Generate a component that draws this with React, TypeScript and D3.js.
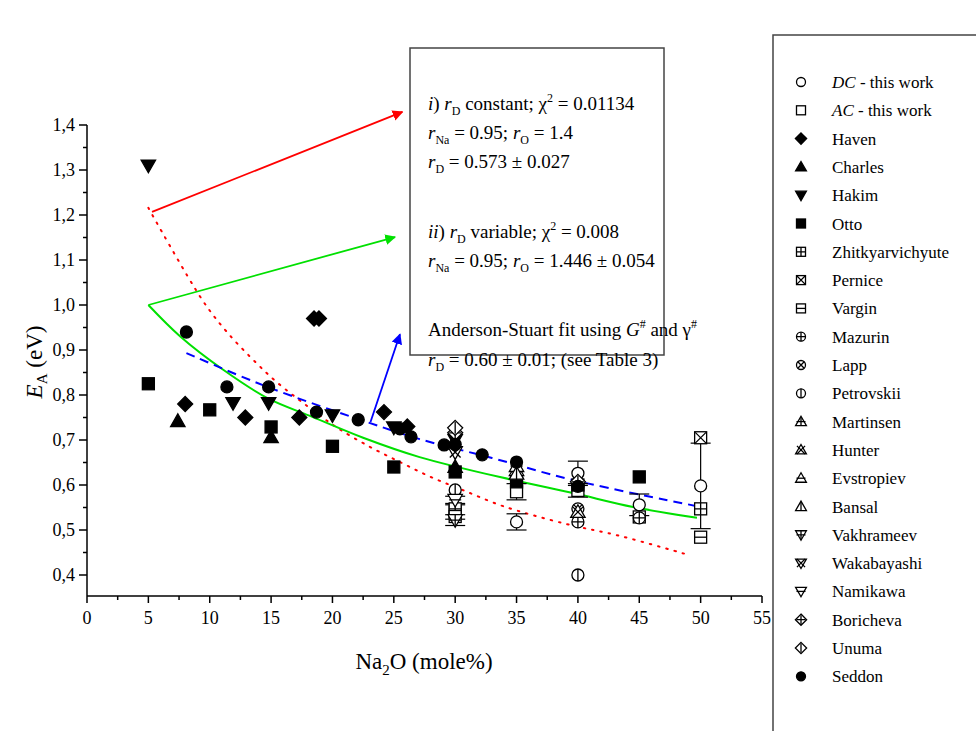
import React from 'react';
import * as d3 from 'd3';

type P = [number, number];

// measured series
const dcThisWork: P[] = [[35, 0.518], [40, 0.626], [45, 0.556], [50, 0.598]];
const acThisWork: P[] = [[30, 0.54], [35, 0.585], [40, 0.588]];
const haven: P[] = [[8, 0.78], [12.9, 0.75], [17.3, 0.75], [18.5, 0.97], [18.9, 0.97], [24.2, 0.762], [26.1, 0.73]];
const charles: P[] = [[7.4, 0.742], [15, 0.706], [30, 0.64]];
const hakim: P[] = [[5, 1.31], [11.9, 0.782], [14.8, 0.782], [20, 0.755], [25, 0.728], [30, 0.7]];
const otto: P[] = [[5, 0.825], [10, 0.767], [15, 0.729], [20, 0.686], [25, 0.64], [30, 0.629], [35, 0.607], [40, 0.6], [45, 0.618]];
const zhit: P[] = [[30, 0.547], [45, 0.529], [50, 0.547]];
const pernice: P[] = [[50, 0.705]];
const vargin: P[] = [[30, 0.53], [50, 0.484]];
const mazurin: P[] = [[40, 0.518], [45, 0.527]];
const lapp: P[] = [[40, 0.547]];
const petrovskii: P[] = [[30, 0.589], [40, 0.4]];
const martinsen: P[] = [[35, 0.633]];
const hunter: P[] = [[40, 0.54]];
const evstropiev: P[] = [[35, 0.642]];
const bansal: P[] = [[35, 0.625]];
const vakhrameev: P[] = [[30, 0.522]];
const wakabayashi: P[] = [[30, 0.673]];
const namikawa: P[] = [[30, 0.567]];
const boricheva: P[] = [[30, 0.716], [40, 0.607]];
const unuma: P[] = [[30, 0.727]];
const seddon: P[] = [[8.1, 0.94], [11.4, 0.818], [14.8, 0.818], [18.7, 0.762], [22.1, 0.745], [25.5, 0.725], [26.4, 0.707], [29.1, 0.689], [30, 0.69], [32.2, 0.667], [35, 0.651], [40, 0.597]];

// error bars [x, y, err]
const errBars: [number, number, number][] = [
  [35, 0.518, 0.018], [40, 0.626, 0.027], [45, 0.556, 0.024], [50, 0.598, 0.095],
  [30, 0.54, 0.016], [35, 0.585, 0.018], [40, 0.588, 0.015], [30, 0.522, 0.012], [30, 0.567, 0.008],
];

// fit curves
const fitConstant: P[] = [[5, 1.216], [9.4, 1.011], [11.4, 0.94], [13.8, 0.871], [15.4, 0.83], [17.1, 0.793], [18.7, 0.76], [20.4, 0.727], [22.9, 0.687], [25.5, 0.651], [28, 0.618], [30.6, 0.589], [33.9, 0.553], [39.1, 0.513], [43.4, 0.487], [49.1, 0.444]];
const fitVariable: P[] = [[5, 1.0], [7.6, 0.93], [11.1, 0.856], [14.7, 0.793], [18.4, 0.751], [22.5, 0.705], [27.1, 0.662], [34.7, 0.611], [39.6, 0.582], [44.5, 0.551], [49.7, 0.527]];
const fitAS: P[] = [[8.1, 0.893], [14.7, 0.818], [22.8, 0.74], [27.1, 0.702], [33, 0.66], [39.6, 0.611], [49.7, 0.553]];

const xTicks = d3.range(0, 56, 5);
const yTicks = d3.range(0.4, 1.401, 0.1);

type Kind = 'circle' | 'square' | 'diamond' | 'up' | 'down';
type Deco = '' | 'plus' | 'x' | 'h' | 'v';
interface Series { name: string; italic?: string; data: P[]; kind: Kind; fill: boolean; deco: Deco; }

const series: Series[] = [
  { name: ' - this work', italic: 'DC', data: dcThisWork, kind: 'circle', fill: false, deco: '' },
  { name: ' - this work', italic: 'AC', data: acThisWork, kind: 'square', fill: false, deco: '' },
  { name: 'Haven', data: haven, kind: 'diamond', fill: true, deco: '' },
  { name: 'Charles', data: charles, kind: 'up', fill: true, deco: '' },
  { name: 'Hakim', data: hakim, kind: 'down', fill: true, deco: '' },
  { name: 'Otto', data: otto, kind: 'square', fill: true, deco: '' },
  { name: 'Zhitkyarvichyute', data: zhit, kind: 'square', fill: false, deco: 'plus' },
  { name: 'Pernice', data: pernice, kind: 'square', fill: false, deco: 'x' },
  { name: 'Vargin', data: vargin, kind: 'square', fill: false, deco: 'h' },
  { name: 'Mazurin', data: mazurin, kind: 'circle', fill: false, deco: 'plus' },
  { name: 'Lapp', data: lapp, kind: 'circle', fill: false, deco: 'x' },
  { name: 'Petrovskii', data: petrovskii, kind: 'circle', fill: false, deco: 'v' },
  { name: 'Martinsen', data: martinsen, kind: 'up', fill: false, deco: 'plus' },
  { name: 'Hunter', data: hunter, kind: 'up', fill: false, deco: 'x' },
  { name: 'Evstropiev', data: evstropiev, kind: 'up', fill: false, deco: 'h' },
  { name: 'Bansal', data: bansal, kind: 'up', fill: false, deco: 'v' },
  { name: 'Vakhrameev', data: vakhrameev, kind: 'down', fill: false, deco: 'plus' },
  { name: 'Wakabayashi', data: wakabayashi, kind: 'down', fill: false, deco: 'x' },
  { name: 'Namikawa', data: namikawa, kind: 'down', fill: false, deco: 'h' },
  { name: 'Boricheva', data: boricheva, kind: 'diamond', fill: false, deco: 'plus' },
  { name: 'Unuma', data: unuma, kind: 'diamond', fill: false, deco: 'v' },
  { name: 'Seddon', data: seddon, kind: 'circle', fill: true, deco: '' },
];

const Marker: React.FC<{ kind: Kind; fill: boolean; deco: Deco; cx: number; cy: number; r: number }> = ({ kind, fill, deco, cx, cy, r }) => {
  const f = fill ? '#000' : '#fff';
  let shape: React.ReactNode;
  if (kind === 'circle') shape = <circle cx={cx} cy={cy} r={r} />;
  else if (kind === 'square') shape = <rect x={cx - r} y={cy - r} width={2 * r} height={2 * r} />;
  else if (kind === 'diamond') shape = <path d={`M${cx},${cy - r * 1.25}L${cx + r * 1.25},${cy}L${cx},${cy + r * 1.25}L${cx - r * 1.25},${cy}Z`} />;
  else if (kind === 'up') shape = <path d={`M${cx},${cy - r * 1.2}L${cx + r * 1.2},${cy + r * 0.9}L${cx - r * 1.2},${cy + r * 0.9}Z`} />;
  else shape = <path d={`M${cx},${cy + r * 1.2}L${cx + r * 1.2},${cy - r * 0.9}L${cx - r * 1.2},${cy - r * 0.9}Z`} />;
  const k = kind === 'circle' ? r * 0.71 : r * 0.9;
  let d = '';
  if (deco === 'plus') d = `M${cx - r},${cy}H${cx + r}M${cx},${cy - r}V${cy + r}`;
  if (deco === 'x') d = `M${cx - k},${cy - k}L${cx + k},${cy + k}M${cx + k},${cy - k}L${cx - k},${cy + k}`;
  if (deco === 'h') d = `M${cx - r},${cy}H${cx + r}`;
  if (deco === 'v') d = `M${cx},${cy - r}V${cy + r}`;
  return (
    <g fill={f} stroke="#000" strokeWidth={1.3}>
      {shape}
      {d && <path d={d} fill="none" />}
    </g>
  );
};

const App: React.FC = () => {
  const x = d3.scaleLinear().domain([0, 55]).range([87, 762]);
  const y = d3.scaleLinear().domain([0.4, 1.4]).range([575, 125]);
  const yBottom = 596;
  const line = d3.line<P>().x(d => x(d[0])).y(d => y(d[1])).curve(d3.curveCatmullRom);
  const font = "'Liberation Serif', 'DejaVu Serif', serif";

  return (
    <svg width={976} height={731} style={{ position: 'absolute', left: 0, top: 0, background: '#fff', fontFamily: font }}>
      <defs>
        {['red', 'lime', 'blue'].map(c => (
          <marker key={c} id={`arr-${c}`} viewBox="0 0 10 10" refX="9" refY="5" markerWidth="6" markerHeight="6" orient="auto">
            <path d="M0,0L10,5L0,10Z" fill={c === 'lime' ? '#00e000' : c} />
          </marker>
        ))}
      </defs>

      {/* axes */}
      <g stroke="#000" strokeWidth={1.5}>
        <line x1={x(0)} x2={x(0)} y1={y(1.4)} y2={yBottom} />
        <line x1={x(0)} x2={x(55)} y1={yBottom} y2={yBottom} />
        {d3.range(0, 55.1, 2.5).map(t => (
          <line key={t} x1={x(t)} x2={x(t)} y1={yBottom} y2={yBottom + (t % 5 === 0 ? 7 : 4)} />
        ))}
        {d3.range(0.4, 1.401, 0.05).map(t => (
          <line key={t} x1={x(0)} x2={x(0) - (Math.round(t * 100) % 10 === 0 ? 8 : 4)} y1={y(t)} y2={y(t)} />
        ))}
      </g>
      {xTicks.map(t => (
        <text key={t} x={x(t)} y={yBottom + 28} textAnchor="middle" fontSize={18}>{t}</text>
      ))}
      {yTicks.map(t => (
        <text key={t} x={x(0) - 12} y={y(t) + 6} textAnchor="end" fontSize={18}>{t.toFixed(1).replace('.', ',')}</text>
      ))}
      <text x={424} y={669} textAnchor="middle" fontSize={23}>Na<tspan fontSize={15} dy={6}>2</tspan><tspan dy={-6}>O (mole%)</tspan></text>
      <text transform="translate(42,362) rotate(-90)" textAnchor="middle" fontSize={23}>
        <tspan fontStyle="italic">E</tspan><tspan fontSize={15} dy={5}>A</tspan><tspan dy={-5}> (eV)</tspan>
      </text>

      {/* fits */}
      <path d={line(fitConstant) ?? ''} fill="none" stroke="red" strokeWidth={2} strokeDasharray="1.5 7" strokeLinecap="round" />
      <path d={line(fitVariable) ?? ''} fill="none" stroke="#00e000" strokeWidth={2} />
      <path d={line(fitAS) ?? ''} fill="none" stroke="#0000ff" strokeWidth={2} strokeDasharray="9 6" />

      {/* arrows */}
      <line x1={x(5.3)} y1={y(1.207)} x2={x(25.7)} y2={y(1.429)} stroke="red" strokeWidth={1.8} markerEnd="url(#arr-red)" />
      <line x1={x(5)} y1={y(1.0)} x2={x(25.1)} y2={y(1.151)} stroke="#00e000" strokeWidth={1.8} markerEnd="url(#arr-lime)" />
      <line x1={x(23.1)} y1={y(0.74)} x2={x(25.5)} y2={y(0.935)} stroke="blue" strokeWidth={1.8} markerEnd="url(#arr-blue)" />

      {/* error bars */}
      <g stroke="#000" strokeWidth={1.2}>
        {errBars.map(([ex, ey, ee], i) => (
          <g key={i}>
            <line x1={x(ex)} x2={x(ex)} y1={y(ey + ee)} y2={y(ey - ee)} />
            <line x1={x(ex) - 10} x2={x(ex) + 10} y1={y(ey + ee)} y2={y(ey + ee)} />
            <line x1={x(ex) - 10} x2={x(ex) + 10} y1={y(ey - ee)} y2={y(ey - ee)} />
          </g>
        ))}
      </g>

      {/* points */}
      {series.map((s, si) => (
        <g key={si}>
          {s.data.map((d, i) => (
            <Marker key={i} kind={s.kind} fill={s.fill} deco={s.deco} cx={x(d[0])} cy={y(d[1])} r={6} />
          ))}
        </g>
      ))}

      {/* annotation box */}
      <rect x={410} y={48} width={254} height={307} fill="none" stroke="#444" strokeWidth={1.5} />
      <g fontSize={19}>
        <text x={428} y={110}><tspan fontStyle="italic">i</tspan>) <tspan fontStyle="italic">r</tspan><tspan fontSize={12} dy={5}>D</tspan><tspan dy={-5}> constant; χ</tspan><tspan fontSize={12} dy={-8}>2</tspan><tspan dy={8}> = 0.01134</tspan></text>
        <text x={428} y={139}><tspan fontStyle="italic">r</tspan><tspan fontSize={12} dy={5}>Na</tspan><tspan dy={-5}> = 0.95; </tspan><tspan fontStyle="italic">r</tspan><tspan fontSize={12} dy={5}>O</tspan><tspan dy={-5}> = 1.4</tspan></text>
        <text x={428} y={168}><tspan fontStyle="italic">r</tspan><tspan fontSize={12} dy={5}>D</tspan><tspan dy={-5}> = 0.573 ± 0.027</tspan></text>
        <text x={428} y={238}><tspan fontStyle="italic">ii</tspan>) <tspan fontStyle="italic">r</tspan><tspan fontSize={12} dy={5}>D</tspan><tspan dy={-5}> variable; χ</tspan><tspan fontSize={12} dy={-8}>2</tspan><tspan dy={8}> = 0.008</tspan></text>
        <text x={428} y={267}><tspan fontStyle="italic">r</tspan><tspan fontSize={12} dy={5}>Na</tspan><tspan dy={-5}> = 0.95; </tspan><tspan fontStyle="italic">r</tspan><tspan fontSize={12} dy={5}>O</tspan><tspan dy={-5}> = 1.446 ± 0.054</tspan></text>
        <text x={428} y={336}>Anderson-Stuart fit using <tspan fontStyle="italic">G</tspan><tspan fontSize={12} dy={-8}>#</tspan><tspan dy={8}> and γ</tspan><tspan fontSize={12} dy={-8}>#</tspan></text>
        <text x={428} y={366}><tspan fontStyle="italic">r</tspan><tspan fontSize={12} dy={5}>D</tspan><tspan dy={-5}> = 0.60 ± 0.01; (see Table 3)</tspan></text>
      </g>

      {/* legend */}
      <rect x={773} y={35} width={220} height={720} fill="none" stroke="#444" strokeWidth={1.5} />
      {series.map((s, i) => {
        const ly = 82 + i * 28.3;
        return (
          <g key={i}>
            <Marker kind={s.kind} fill={s.fill} deco={s.deco} cx={801} cy={ly} r={4.5} />
            <text x={832} y={ly + 6} fontSize={17}>
              {s.italic && <tspan fontStyle="italic">{s.italic}</tspan>}{s.name}
            </text>
          </g>
        );
      })}
    </svg>
  );
};

export default App;
